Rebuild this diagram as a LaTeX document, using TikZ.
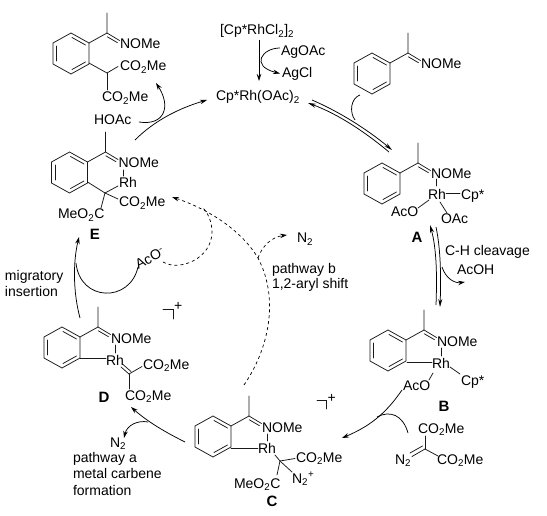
\documentclass[tikz,border=0pt]{standalone}
\usepackage{fontspec}
\setmainfont{Liberation Sans}
\usetikzlibrary{arrows.meta}
\newcommand\subs[1]{\textsubscript{#1}}
\tikzset{
  bond/.style={line width=0.75pt,line cap=round,black!90},
  lbl/.style={anchor=west,inner sep=0pt,outer sep=0pt,text height=10pt,text depth=0pt,font=\fontsize{14}{16}\selectfont},
  blbl/.style={anchor=center,inner sep=0pt,outer sep=0pt,font=\fontsize{15}{16}\selectfont\bfseries},
  curved/.style={line width=0.75pt,-{Stealth[length=7pt,width=4.5pt]}},
  eqarrow/.style={line width=0.75pt,-{Stealth[length=8pt,width=4pt]}},
  plainarc/.style={line width=0.75pt},
  dashedarc/.style={line width=0.7pt,dash pattern=on 3pt off 3pt},
  dasharrow/.style={dashedarc,-{Stealth[length=7pt,width=4.5pt]}},
}
% #1 x of imine carbon, #2 y of imine carbon, #3 name of the NOMe node
\newcommand\oxring[3]{%
  \begin{scope}[shift={(#1,#2)}]
    \draw[bond] (-18,10) -- (-18,31) -- (-36,41) -- (-54,31) -- (-54,10) -- (-36,0) -- cycle;
    \draw[bond] (-50.5,13) -- (-50.5,28);
    \draw[bond] (-35,4.5) -- (-21.5,12);
    \draw[bond] (-35,36.5) -- (-21.5,29);
    \draw[bond] (-18,10) -- (0,0) -- (0,-20);
    \draw[bond] (0,0) -- (12.5,7.5);
    \draw[bond] (0.3,3.8) -- (10.5,9.7);
    \node[lbl] (#3) at (13,11) {NOMe};
  \end{scope}}
\begin{document}
\begin{tikzpicture}[x=1pt,y=-1pt]
\useasboundingbox (0,0) rectangle (547,516);
\fill[white] (0,0) rectangle (547,516);

% product
\oxring{107}{33}{pN}
\node[lbl] (pCa) at (120,66) {CO\subs{2}Me};
\node[lbl] (pCb) at (102,97) {CO\subs{2}Me};
\draw[bond] (89,63) -- (107,73) -- (118,66.5);
\draw[bond] (107,73) -- (107,90);

% catalyst
\node[lbl] (pre) at (220,30) {[Cp*RhCl\subs{2}]\subs{2}};
\node[lbl] (agoac) at (281,51) {AgOAc};
\node[lbl] (agcl) at (282,73) {AgCl};
\node[lbl] (cat) at (216,96) {Cp*Rh(OAc)\subs{2}};
\coordinate (preS) at (259,40);
\coordinate (catN) at (259,81);
\draw[curved] (preS) -- (catN);
\coordinate (agA) at (280,48);
\coordinate (agB) at (280,73.5);
\draw[curved] (agA) .. controls (262,48) and (250,66) .. (agB);

% substrate
\oxring{408}{53}{sN}
\coordinate (subS) at (360,95);
\coordinate (subE) at (355,120);
\draw[plainarc] (subS) .. controls (351,98) and (349,112) .. (subE);

% cat <-> A
\coordinate (cA) at (312,100);
\coordinate (aC) at (392,150);
\coordinate (aD) at (389,152);
\coordinate (cB) at (308,103);
\draw[eqarrow] (cA) .. controls (340,112) and (368,130) .. (aC);
\draw[eqarrow] (aD) .. controls (365,132) and (338,114) .. (cB);

% A
\oxring{418}{163}{aN}
\node[lbl] (aRh) at (428,195) {Rh};
\node[lbl] (aCp) at (461,195) {Cp*};
\node[lbl] (aAcO) at (391,212) {AcO};
\node[lbl] (aOAc) at (441,219) {OAc};
\node[blbl] (aL) at (417,237) {A};
\draw[bond] (436.5,179) -- (436.5,186);
\draw[bond] (446,193.5) -- (460,193.5);
\draw[bond] (418,208) -- (429,200);
\draw[bond] (440,202) -- (447,213);

% A <-> B
\coordinate (abA) at (436,305);
\coordinate (abB) at (430,225);
\coordinate (abC) at (436,227);
\coordinate (abD) at (440,307);
\draw[eqarrow] (abA) .. controls (437,280) and (437,250) .. (abB);
\draw[eqarrow] (abC) .. controls (441,250) and (441,280) .. (abD);
\node[lbl] (ch) at (445,250) {C-H cleavage};
\node[lbl] (acoh) at (457,270) {AcOH};
\coordinate (acS) at (442,267);
\coordinate (acE) at (465,282);
\draw[curved] (acS) .. controls (446,279) and (455,283.5) .. (acE);

% B
\oxring{424}{330}{bN}
\node[lbl] (bRh) at (432,363) {Rh};
\node[lbl] (bCp) at (461,380) {Cp*};
\node[lbl] (bAcO) at (403,385) {AcO};
\node[blbl] (bL) at (444,406) {B};
\draw[bond] (441,348) -- (441,356);
\draw[bond] (407,362) -- (432,362);
\draw[bond] (450,367) -- (460,374);
\draw[bond] (433,373) -- (429,380);
\draw[bond] (317,400) -- (326,400) -- (326,409);
\node[lbl] (bPlus) at (327.5,397) {+};

% B -> C
\coordinate (bcS) at (402,390);
\coordinate (bcE) at (342,438);
\draw[curved] (bcS) .. controls (385,415) and (368,427) .. (bcE);
\coordinate (dzS) at (408,433);
\coordinate (dzE) at (377,417);
\draw[plainarc] (dzS) .. controls (403,415) and (390,410) .. (dzE);

% diazo
\node[lbl] (dzA) at (418,428) {CO\subs{2}Me};
\node[lbl] (dzB) at (395,459) {N\subs{2}};
\node[lbl] (dzC) at (437,459) {CO\subs{2}Me};
\draw[bond] (425,449) -- (425,436);
\draw[bond] (425,449) -- (438,456);
\draw[bond] (425,449) -- (412,456.5);
\draw[bond] (422.5,446) -- (410,453);

% C
\oxring{249}{416}{cN}
\node[lbl] (cRh) at (258,448) {Rh};
\node[lbl] (cCa) at (296,457) {CO\subs{2}Me};
\node[lbl] (cNt) at (292,478) {N\subs{2}\textsuperscript{+}};
\node[lbl] (cMe) at (234,483) {MeO\subs{2}C};
\node[blbl] (cL) at (272,501) {C};
\draw[bond] (267,434) -- (267,441);
\draw[bond] (231,448) -- (258,448);
\draw[bond] (275,455) -- (280,461) -- (295,458.5);
\draw[bond] (280,461) -- (292,472);
\draw[bond] (280,461) -- (277,475);

% C -> D
\coordinate (cdS) at (185,442);
\coordinate (cdE) at (131,407);
\draw[curved] (cdS) .. controls (165,432) and (148,422) .. (cdE);
\coordinate (ntS) at (148,422);
\coordinate (ntE) at (124,438);
\draw[curved] (ntS) .. controls (138,420) and (127,425) .. (ntE);
\node[lbl] (dN2) at (110,442) {N\subs{2}};
\node[lbl] (pa) at (73,457) {pathway a};
\node[lbl] (pa2) at (73,473.5) {metal carbene};
\node[lbl] (pa3) at (73,490) {formation};

% D
\oxring{98}{327}{dN}
\node[lbl] (dRh) at (106,360) {Rh};
\node[lbl] (dCa) at (143,364) {CO\subs{2}Me};
\node[lbl] (dCb) at (125,395) {CO\subs{2}Me};
\node[blbl] (dL) at (104,397) {D};
\draw[bond] (115,345) -- (115,353);
\draw[bond] (80,358) -- (106,358);
\draw[bond] (121,367) -- (129,374);
\draw[bond] (123,364.5) -- (131,371.5);
\draw[bond] (129,374) -- (142,366.5);
\draw[bond] (129,374) -- (129,389);
\draw[bond] (163,309) -- (173,309) -- (173,319);
\node[lbl] (dPlus) at (174,306) {+};

% D -> E
\coordinate (deS) at (80,318);
\coordinate (deE) at (79,237);
\draw[curved] (deS) .. controls (73,292) and (73,262) .. (deE);
\node[lbl] (mig) at (5,276) {migratory};
\node[lbl] (ins) at (5,292) {insertion};
\node[inner sep=0pt,rotate=27,font=\fontsize{14}{16}\selectfont] (aco) at (150,258) {AcO\textsuperscript{-}};
\coordinate (loopS) at (76,263);
\coordinate (loopE) at (138,267);
\draw[plainarc] (loopS) .. controls (80,302) and (130,303) .. (loopE);

% E
\oxring{105.5}{152}{eN}
\node[lbl] (eRh) at (119,183) {Rh};
\node[lbl] (eCa) at (119,202) {CO\subs{2}Me};
\node[lbl] (eMe) at (58,214) {MeO\subs{2}C};
\node[blbl] (eL) at (95,234) {E};
\draw[bond] (123.5,170) -- (123.5,176);
\draw[bond] (87.5,182) -- (105,193) -- (118,186);
\draw[bond] (105,193) -- (118,199);
\draw[bond] (105,193) -- (101,208);

% E -> product / catalyst
\node[lbl] (hoac) at (94,120) {HOAc};
\coordinate (hS) at (139,122);
\coordinate (hE) at (156,83);
\draw[curved] (hS) .. controls (165,126) and (171,106) .. (hE);
\coordinate (eS) at (135,140);
\coordinate (eE) at (207,100);
\draw[curved] (eS) .. controls (155,120) and (180,108) .. (eE);

% dashed paths
\coordinate (cTop) at (244,385);
\coordinate (split) at (258,258);
\coordinate (eTip) at (172,197);
\coordinate (acoEnd) at (163,262);
\coordinate (merge) at (203,208);
\draw[dasharrow] (cTop) .. controls (268,350) and (280,300) .. (split)
   .. controls (240,228) and (205,208) .. (eTip);
\draw[dashedarc] (acoEnd) .. controls (180,272) and (212,258) .. (212,232) .. controls (212,222) and (208,213) .. (merge);
\node[lbl] (n2top) at (297,238) {N\subs{2}};
\coordinate (n2E) at (287,235);
\draw[dasharrow] (split) .. controls (262,246) and (272,237) .. (n2E);
\node[lbl] (pb) at (272,268) {pathway b};
\node[lbl] (pb2) at (272,284) {1,2-aryl shift};
\end{tikzpicture}
\end{document}
